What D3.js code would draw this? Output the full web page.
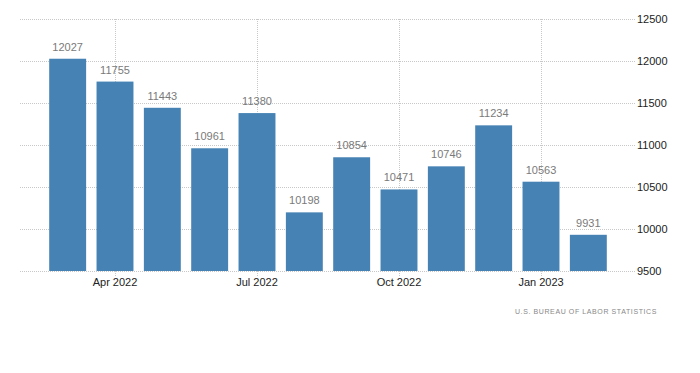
<!DOCTYPE html>
<html>
<head>
<meta charset="utf-8">
<script src="https://cdn.jsdelivr.net/npm/d3@7"></script>
<style>
  body { margin: 0; background: #fff; }
  svg { font-family: "Liberation Sans", Arial, sans-serif; }
</style>
</head>
<body>
<div id="chart"><svg width="700" height="373"></svg></div>
<script>
const months = ["Mar 2022", "Apr 2022", "May 2022", "Jun 2022", "Jul 2022", "Aug 2022",
                "Sep 2022", "Oct 2022", "Nov 2022", "Dec 2022", "Jan 2023", "Feb 2023"];
const values = [12027, 11755, 11443, 10961, 11380, 10198, 10854, 10471, 10746, 11234, 10563, 9931];
const xTickLabels = ["Apr 2022", "Jul 2022", "Oct 2022", "Jan 2023"];
const yTicks = [9500, 10000, 10500, 11000, 11500, 12000, 12500];

const svg = d3.select("#chart svg");
const plot = {left: 20, right: 635, top: 19, bottom: 271};

const x = d3.scaleBand()
    .domain(months)
    .range([44, 612])
    .paddingInner(0.22)
    .paddingOuter(0.11);

const y = d3.scaleLinear()
    .domain([9500, 12500])
    .range([plot.bottom, plot.top]);

// horizontal grid
const grid = svg.append("g").attr("class", "grid");
grid.selectAll("line.h")
    .data(yTicks)
    .join("line")
    .attr("class", "h")
    .attr("x1", plot.left)
    .attr("x2", plot.right)
    .attr("y1", d => Math.round(y(d)) + 0.5)
    .attr("y2", d => Math.round(y(d)) + 0.5)
    .attr("stroke", "#c8c8c8")
    .attr("stroke-dasharray", "1,1");

// vertical grid at labelled months
grid.selectAll("line.v")
    .data(xTickLabels)
    .join("line")
    .attr("class", "v")
    .attr("x1", d => Math.round(x(d) + x.bandwidth() / 2) + 0.5)
    .attr("x2", d => Math.round(x(d) + x.bandwidth() / 2) + 0.5)
    .attr("y1", plot.top)
    .attr("y2", plot.bottom + 5)
    .attr("stroke", "#c8c8c8")
    .attr("stroke-dasharray", "1,1");

// bars
svg.append("g").selectAll("rect")
    .data(values)
    .join("rect")
    .attr("x", (d, i) => x(months[i]))
    .attr("width", x.bandwidth())
    .attr("y", d => y(d))
    .attr("height", d => y(9500) - y(d))
    .attr("fill", "#4682b4");

// value labels
svg.append("g").selectAll("text")
    .data(values)
    .join("text")
    .attr("x", (d, i) => x(months[i]) + x.bandwidth() / 2)
    .attr("y", d => y(d) - 8)
    .attr("text-anchor", "middle")
    .attr("fill", "#7a7a7a")
    .style("font-size", "11px")
    .text(d => d);

// x axis
const xAxis = svg.append("g")
    .attr("transform", `translate(0,${plot.bottom})`)
    .call(d3.axisBottom(x).tickValues(xTickLabels).tickSize(0).tickPadding(7));
xAxis.select(".domain").remove();
xAxis.selectAll("text").attr("fill", "#222").style("font-size", "11px");

// y axis on the right
const yAxis = svg.append("g")
    .attr("transform", `translate(${plot.right},0)`)
    .call(d3.axisRight(y).tickValues(yTicks).tickSize(0).tickPadding(2).tickFormat(d3.format("d")));
yAxis.select(".domain").remove();
yAxis.selectAll("text").attr("fill", "#222").style("font-size", "11px");

// source
svg.append("text")
    .attr("x", 657)
    .attr("y", 314)
    .attr("text-anchor", "end")
    .attr("fill", "#888")
    .style("font-size", "7px")
    .style("letter-spacing", "0.6px")
    .text("U.S. BUREAU OF LABOR STATISTICS");
</script>
</body>
</html>
